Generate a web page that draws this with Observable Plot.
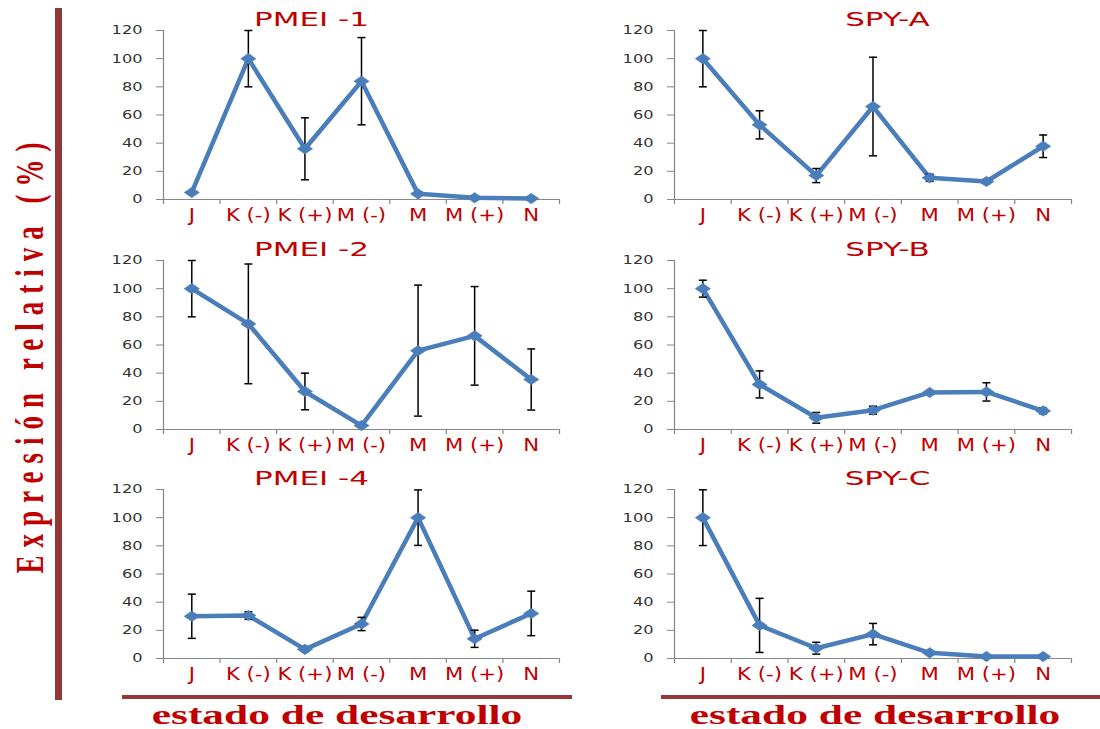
<!DOCTYPE html>
<html><head><meta charset="utf-8">
<script src="https://cdn.jsdelivr.net/npm/d3@7"></script>
<script src="https://cdn.jsdelivr.net/npm/@observablehq/plot@0.6"></script>
<style>
html,body{margin:0;padding:0;background:#fff;}
#root{position:relative;width:1100px;height:729px;overflow:hidden;font-family:"DejaVu Sans";}
.panel{position:absolute;}
.vbar{position:absolute;left:55px;top:8px;width:7px;height:692px;background:#953735;}
.hbar{position:absolute;top:695px;height:4px;background:#953735;}
.xtitle{position:absolute;top:703px;font-family:"Liberation Serif";font-weight:bold;font-size:28px;line-height:24px;color:#c00000;white-space:nowrap;transform:translateX(-50%) scaleX(1.55);}
.ytitle{position:absolute;left:30px;top:354px;font-family:"Liberation Serif";font-weight:bold;font-size:27px;line-height:30px;letter-spacing:8px;color:#c00000;white-space:nowrap;transform:translate(-50%,-50%) rotate(-90deg) scaleY(1.45);}
</style>
</head><body>
<div id="root">
  <div class="vbar"></div>
  <div class="hbar" style="left:122px;width:450px;"></div>
  <div class="hbar" style="left:661px;width:439px;"></div>
  <div class="ytitle">Expresión relativa (%)</div>
  <div class="xtitle" style="left:337px;">estado de desarrollo</div>
  <div class="xtitle" style="left:875px;">estado de desarrollo</div>
</div>
<script>
const categories = ["J", "K (-)", "K (+)", "M (-)", "M", "M (+)", "N"];
const yTicks = [0, 20, 40, 60, 80, 100, 120];
const panelTitles = ["PMEI -1", "SPY-A", "PMEI -2", "SPY-B", "PMEI -4", "SPY-C"];

const pmei1    = [5, 100, 36, 84, 4, 1.2, 0.7];
const pmei1Err = [0, 20, 22, 31, 0, 0, 0];
const spyA     = [100, 53, 17, 66, 15.4, 12.8, 37.8];
const spyAErr  = [20, 10, 5, 35, 2.5, 1.5, 8];
const pmei2    = [100, 75, 27, 2.8, 56, 66.5, 35.5];
const pmei2Err = [20, 42.5, 13, 0, 46.5, 35, 21.7];
const spyB     = [100, 32, 8.3, 13.7, 26.3, 26.7, 13.2];
const spyBErr  = [6, 9.6, 3.8, 2.8, 0, 6.5, 2];
const pmei4    = [30, 30.5, 6.5, 24.5, 100, 14, 32];
const pmei4Err = [15.7, 2.7, 1.6, 4.7, 19.7, 6.1, 15.8];
const spyC     = [100, 23.5, 7.3, 17.3, 4, 1.4, 1.4];
const spyCErr  = [19.8, 19.2, 4.2, 7.6, 0, 0, 0];

const seriesList = [
  [pmei1, pmei1Err], [spyA, spyAErr],
  [pmei2, pmei2Err], [spyB, spyBErr],
  [pmei4, pmei4Err], [spyC, spyCErr]
];

const blue = "#4a7ebb";
const axisGray = "#868686";
const red = "#c00000";

const wideDiamond = {draw(ctx, size) {
  const r = Math.sqrt(size / Math.PI);
  ctx.moveTo(-1.45 * r, 0); ctx.lineTo(0, -r); ctx.lineTo(1.45 * r, 0); ctx.lineTo(0, r); ctx.closePath();
}};
const capSymbol = {draw(ctx, size) {
  const r = Math.sqrt(size / Math.PI);
  ctx.moveTo(-r, 0); ctx.lineTo(r, 0);
}};

function stretch(svg, sel, sx) {
  svg.querySelectorAll(sel).forEach(t => {
    const tr = t.getAttribute("transform") || "";
    t.setAttribute("transform", tr + ` scale(${sx},1)`);
  });
}

const root = document.getElementById("root");
const W = 470, H = 230, mT = 30, mB = 31, mL = 63;
const tops = [0, 230, 459];

seriesList.forEach(([vals, errs], k) => {
  const col = k % 2, row = Math.floor(k / 2);
  const mR = col === 0 ? 11 : 10;
  const step = (W - mL - mR) / categories.length;
  const plotH = H - mT - mB;
  const rows = categories.map((c, i) => ({cat: c, v: vals[i], e: errs[i], lo: vals[i] - errs[i], hi: vals[i] + errs[i]}));
  const withErr = rows.filter(d => d.e > 0);
  const plot = Plot.plot({
    width: W, height: H, marginLeft: mL, marginRight: mR, marginTop: mT, marginBottom: mB,
    style: {fontFamily: "DejaVu Sans", background: "transparent", overflow: "visible"},
    x: {type: "point", domain: categories, padding: 0.5, round: false, label: null},
    y: {domain: [0, 120], label: null},
    marks: [
      Plot.ruleY([0], {stroke: axisGray, strokeWidth: 1.2}),
      Plot.ruleX([categories[0]], {dx: -step / 2, y1: 0, y2: 120, stroke: axisGray, strokeWidth: 1.2}),
      Plot.ruleX(categories, {x: d => d, dx: -step / 2, insetTop: plotH, insetBottom: -5, stroke: axisGray, strokeWidth: 1.2}),
      Plot.ruleX([categories[categories.length - 1]], {dx: step / 2, insetTop: plotH, insetBottom: -5, stroke: axisGray, strokeWidth: 1.2}),
      Plot.axisY({ticks: yTicks, tickSize: 7, tickPadding: 14, stroke: axisGray, fill: "#333", fontSize: 12, label: null}),
      Plot.axisX({tickSize: 0, tickPadding: 9, fill: red, fontSize: 17, label: null}),
      Plot.line(rows, {x: "cat", y: "v", stroke: blue, strokeWidth: 4.5}),
      Plot.ruleX(withErr, {x: "cat", y1: "lo", y2: "hi", stroke: "black", strokeWidth: 1.5}),
      Plot.dot(withErr, {x: "cat", y: "lo", symbol: capSymbol, r: 4, stroke: "black", fill: "none", strokeWidth: 1.5}),
      Plot.dot(withErr, {x: "cat", y: "hi", symbol: capSymbol, r: 4, stroke: "black", fill: "none", strokeWidth: 1.5}),
      Plot.dot(rows, {x: "cat", y: "v", symbol: wideDiamond, r: 5.3, fill: blue, stroke: blue, strokeWidth: 0.5}),
      Plot.text([panelTitles[k]], {frameAnchor: "top", dx: col === 0 ? -50 : 14.5, dy: -10.5, lineAnchor: "middle", fontSize: 20, fill: red})
    ]
  });
  stretch(plot, 'g[aria-label="y-axis tick label"] text', 1.35);
  stretch(plot, 'g[aria-label="x-axis tick label"] text', 1.25);
  stretch(plot, 'g[aria-label="text"] text', 1.55);
  plot.classList.add("panel");
  plot.style.left = (col === 0 ? 100 : 611) + "px";
  plot.style.top = tops[row] + "px";
  root.appendChild(plot);
});
</script>
</body></html>
